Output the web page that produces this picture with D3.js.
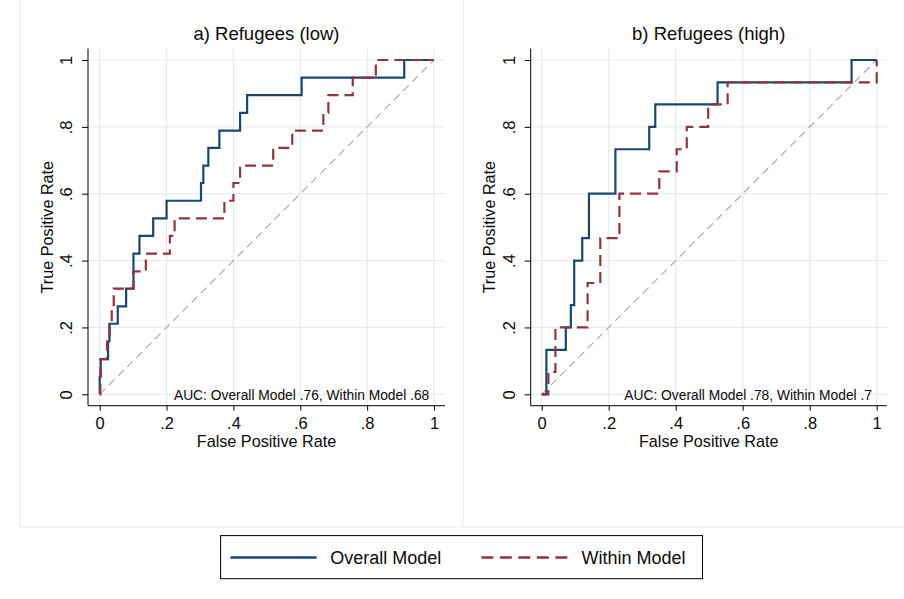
<!DOCTYPE html>
<html>
<head>
<meta charset="utf-8">
<script src="https://cdn.jsdelivr.net/npm/d3@7"></script>
<style>
  html, body { margin: 0; padding: 0; background: #fff; }
  svg { display: block; font-family: "Liberation Sans", Arial, Helvetica, sans-serif; }
</style>
</head>
<body>
<svg id="chart" width="904" height="599"></svg>
<script>
// ---- data ----------------------------------------------------------------
const panelTitles = ["a) Refugees (low)", "b) Refugees (high)"];
const seriesNames = ["Overall Model", "Within Model"];
const tickValues = [0, 0.2, 0.4, 0.6, 0.8, 1];
const tickLabels = ["0", ".2", ".4", ".6", ".8", "1"];
const aucOverall = [0.76, 0.78];
const aucWithin = [0.68, 0.7];

// ROC corner points: at each FPR the curve jumps up to the listed TPR
const lowOverallFpr = [0, 0, 0.003, 0.025, 0.029, 0.054, 0.079, 0.101, 0.119, 0.16, 0.2, 0.303, 0.31, 0.325, 0.358, 0.42, 0.441, 0.604, 0.911, 1];
const lowOverallTpr = [0, 0.053, 0.105, 0.158, 0.211, 0.263, 0.316, 0.421, 0.474, 0.526, 0.579, 0.632, 0.684, 0.737, 0.789, 0.842, 0.895, 0.947, 1, 1];

const lowWithinFpr = [0, 0.002, 0.022, 0.03, 0.036, 0.042, 0.101, 0.138, 0.21, 0.224, 0.373, 0.4, 0.42, 0.519, 0.576, 0.669, 0.684, 0.757, 0.826, 1];
const lowWithinTpr = [0, 0.105, 0.158, 0.211, 0.263, 0.316, 0.368, 0.421, 0.474, 0.526, 0.579, 0.632, 0.684, 0.737, 0.789, 0.842, 0.895, 0.947, 1, 1];

const highOverallFpr = [0, 0.014, 0.072, 0.087, 0.097, 0.121, 0.141, 0.22, 0.321, 0.339, 0.525, 0.925, 1];
const highOverallTpr = [0, 0.133, 0.2, 0.267, 0.4, 0.467, 0.6, 0.733, 0.8, 0.867, 0.933, 1, 1];

const highWithinFpr = [0, 0.02, 0.041, 0.137, 0.175, 0.232, 0.351, 0.403, 0.433, 0.497, 0.555, 1];
const highWithinTpr = [0, 0.067, 0.2, 0.333, 0.467, 0.6, 0.667, 0.733, 0.8, 0.867, 0.933, 1];

const refFpr = [0, 1];
const refTpr = [0, 1];

// ---- layout & style ------------------------------------------------------
const panels = [
  { plotLeft: 88,    plotRight: 445,   xStart: 99.7,  xEnd: 434,
    overall: [lowOverallFpr, lowOverallTpr], within: [lowWithinFpr, lowWithinTpr] },
  { plotLeft: 530.7, plotRight: 886.7, xStart: 541.7, xEnd: 876.7,
    overall: [highOverallFpr, highOverallTpr], within: [highWithinFpr, highWithinTpr] }
];
const plotTop = 48.6, plotBottom = 405.7, yStart = 394.3, yEnd = 60;

const NAVY = "#1a476f";
const MAROON = "#90353b";
const GRID = "#e4ecef";
const FRAME = "#e2eaee";
const REF = "#a6a6a6";
const INK = "#0a0a0a";

const fmtAuc = v => d3.format(".2~f")(v).replace(/^0/, "");
const zip = (xs, ys) => xs.map((x, i) => [x, ys[i]]);

const svg = d3.select("#chart");

// light panel frames of the combined graph
const frameLines = [
  [20, 0, 20, 527], [463, 0, 463, 527], [20, 527, 904, 527]
];
svg.append("g").selectAll("line").data(frameLines).join("line")
  .attr("x1", d => d[0]).attr("y1", d => d[1]).attr("x2", d => d[2]).attr("y2", d => d[3])
  .attr("stroke", FRAME).attr("stroke-width", 1);

panels.forEach((p, pi) => {
  const x = d3.scaleLinear().domain([0, 1]).range([p.xStart, p.xEnd]);
  const y = d3.scaleLinear().domain([0, 1]).range([yStart, yEnd]);
  const g = svg.append("g");

  // grid
  g.append("g").selectAll("line").data(tickValues).join("line")
    .attr("x1", p.plotLeft).attr("x2", p.plotRight)
    .attr("y1", d => y(d)).attr("y2", d => y(d))
    .attr("stroke", GRID).attr("stroke-width", 1.2);
  g.append("g").selectAll("line").data(tickValues).join("line")
    .attr("y1", plotTop).attr("y2", plotBottom)
    .attr("x1", d => x(d)).attr("x2", d => x(d))
    .attr("stroke", GRID).attr("stroke-width", 1.2);

  // reference diagonal
  const straight = d3.line().x(d => x(d[0])).y(d => y(d[1]));
  g.append("path").datum(zip(refFpr, refTpr))
    .attr("d", straight).attr("fill", "none")
    .attr("stroke", REF).attr("stroke-width", 1.1).attr("stroke-dasharray", "8,5");

  // ROC step curves
  const step = d3.line().x(d => x(d[0])).y(d => y(d[1])).curve(d3.curveStepAfter);
  g.append("path").datum(zip(p.overall[0], p.overall[1]))
    .attr("d", step).attr("fill", "none")
    .attr("stroke", NAVY).attr("stroke-width", 2.2).attr("stroke-linejoin", "miter");
  g.append("path").datum(zip(p.within[0], p.within[1]))
    .attr("d", step).attr("fill", "none")
    .attr("stroke", MAROON).attr("stroke-width", 2.2).attr("stroke-dasharray", "11,6");

  // AUC note
  g.append("text")
    .attr("x", x(1) - 4.7).attr("y", 400)
    .attr("text-anchor", "end").attr("font-size", 13.8).attr("fill", INK)
    .text(`AUC: ${seriesNames[0]} ${fmtAuc(aucOverall[pi])}, ${seriesNames[1]} ${fmtAuc(aucWithin[pi])}`);

  // axes
  const yAxis = g.append("g").attr("transform", `translate(${p.plotLeft},0)`)
    .call(d3.axisLeft(y).tickValues(tickValues).tickFormat((d, i) => tickLabels[i]).tickSize(6));
  yAxis.select(".domain").remove();
  yAxis.selectAll("line").attr("stroke", "#000");
  yAxis.selectAll("text")
    .attr("x", null).attr("dy", "0.36em")
    .attr("transform", "translate(-21.5,0) rotate(-90)")
    .attr("text-anchor", "middle").attr("font-size", 16.5).attr("fill", INK);
  yAxis.attr("font-family", null);

  const xAxis = g.append("g").attr("transform", `translate(0,${plotBottom})`)
    .call(d3.axisBottom(x).tickValues(tickValues).tickFormat((d, i) => tickLabels[i]).tickSize(5));
  xAxis.select(".domain").remove();
  xAxis.selectAll("line").attr("stroke", "#000");
  xAxis.selectAll("text").attr("y", 23.8).attr("dy", null)
    .attr("font-size", 16.5).attr("fill", INK);
  xAxis.attr("font-family", null);

  // axis lines
  g.append("line").attr("x1", p.plotLeft).attr("x2", p.plotLeft)
    .attr("y1", plotTop).attr("y2", plotBottom).attr("stroke", "#000").attr("stroke-width", 1);
  g.append("line").attr("x1", p.plotLeft).attr("x2", p.plotRight)
    .attr("y1", plotBottom).attr("y2", plotBottom).attr("stroke", "#000").attr("stroke-width", 1);

  // titles
  const cx = (p.plotLeft + p.plotRight) / 2;
  g.append("text").attr("x", cx).attr("y", 39.5)
    .attr("text-anchor", "middle").attr("font-size", 18.5).attr("fill", INK)
    .text(panelTitles[pi]);
  g.append("text").attr("x", cx).attr("y", 446.9)
    .attr("text-anchor", "middle").attr("font-size", 16.2).attr("fill", INK)
    .text("False Positive Rate");
  g.append("text")
    .attr("transform", `translate(${p.plotLeft - 41.3},${(plotTop + plotBottom) / 2}) rotate(-90)`)
    .attr("dy", "0.36em").attr("text-anchor", "middle").attr("font-size", 16.2).attr("fill", INK)
    .text("True Positive Rate");
});

// legend
const legend = svg.append("g");
legend.append("rect").attr("x", 220.6).attr("y", 535.6).attr("width", 481.9).attr("height", 43.1)
  .attr("fill", "#fff").attr("stroke", "#000").attr("stroke-width", 1);
const legendItems = [
  { name: seriesNames[0], color: NAVY, dash: null, lx: 230.5, tx: 330.3 },
  { name: seriesNames[1], color: MAROON, dash: "12,6.5", lx: 481.3, tx: 581.4 }
];
legendItems.forEach(it => {
  legend.append("line").attr("x1", it.lx).attr("x2", it.lx + 86.2)
    .attr("y1", 557.5).attr("y2", 557.5)
    .attr("stroke", it.color).attr("stroke-width", 2.4)
    .attr("stroke-dasharray", it.dash);
  legend.append("text").attr("x", it.tx).attr("y", 563.8)
    .attr("font-size", 18).attr("fill", INK).text(it.name);
});
</script>
</body>
</html>
